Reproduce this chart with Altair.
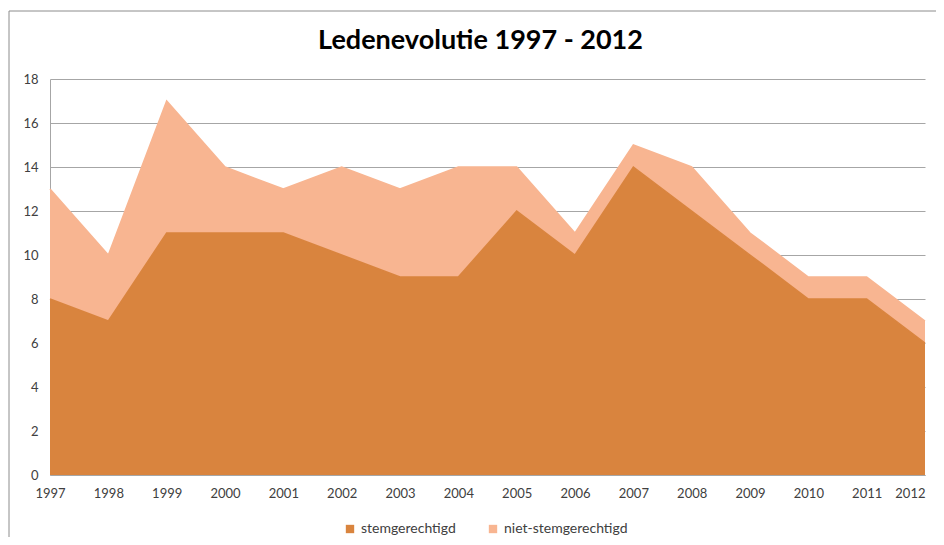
import altair as alt
import pandas as pd

years = list(range(1997, 2013))
stemgerechtigd = [8, 7, 11, 11, 11, 10, 9, 9, 12, 10, 14, 12, 10, 8, 8, 6]
niet_stemgerechtigd = [5, 3, 6, 3, 2, 4, 4, 5, 2, 1, 1, 2, 1, 1, 1, 1]
series = ["stemgerechtigd", "niet-stemgerechtigd"]
colors = ["#D9843E", "#F8B591"]
y_ticks = list(range(0, 19, 2))

rows = []
for i, y in enumerate(years):
    rows.append({"jaar": y, "reeks": series[0], "waarde": stemgerechtigd[i], "ord": 0})
    rows.append({"jaar": y, "reeks": series[1], "waarde": niet_stemgerechtigd[i], "ord": 1})
df = pd.DataFrame(rows)

FONT = "Lato"

area = alt.Chart(df).mark_area(
    line={"color": "white", "strokeWidth": 1.5}, opacity=1
).encode(
    x=alt.X("jaar:Q", scale=alt.Scale(domain=[1997, 2012], nice=False, zero=False),
            axis=alt.Axis(values=years, format="d", title=None, grid=False, ticks=False,
                          domainColor="#A6A6A6", labelPadding=12, labelFlush=False,
                          labelAlign={"expr": "datum.value == 2012 ? 'right' : 'center'"})),
    y=alt.Y("waarde:Q", stack="zero", scale=alt.Scale(domain=[0, 18], nice=False),
            axis=alt.Axis(values=y_ticks, title=None, grid=True, gridColor="#A6A6A6",
                          ticks=False, domainColor="#A6A6A6", labelPadding=12)),
    color=alt.Color("reeks:N", scale=alt.Scale(domain=series, range=colors),
                    legend=alt.Legend(title=None, orient="none", direction="horizontal",
                                      legendX=293, legendY=443, symbolType="square",
                                      symbolSize=70, columnPadding=30, labelFontSize=14,
                                      labelFont=FONT, labelColor="#404040",
                                      symbolStrokeWidth=0)),
    order=alt.Order("ord:Q"),
)

border = alt.Chart(pd.DataFrame({"a": [0]})).mark_rect(
    fill=None, stroke="#8C8C8C", strokeWidth=1, clip=False
).encode(
    x=alt.value(-41), x2=alt.value(887), y=alt.value(-68), y2=alt.value(490)
)

chart = alt.layer(area, border).properties(
    width=875, height=396,
    autosize=alt.AutoSizeParams(type="none"),
    padding={"left": 42, "top": 71, "right": 11, "bottom": 62},
    title=alt.Title("Ledenevolutie 1997 - 2012", fontSize=27, font=FONT, fontWeight="bold",
                    color="black", anchor="middle", offset=-44, dx=-7),
).configure_view(stroke=None).configure_axis(
    labelFont=FONT, labelFontSize=13, labelColor="#404040"
)

chart.save("out.html", embed_options={"renderer": "svg", "actions": False})
